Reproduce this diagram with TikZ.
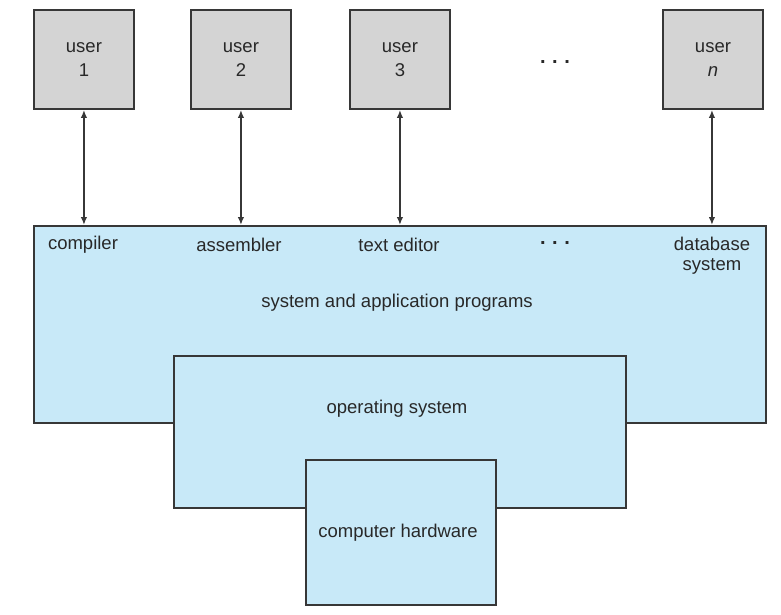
\documentclass[tikz,border=0pt]{standalone}
\usepackage{fontspec}
\setmainfont{Liberation Sans}
\usetikzlibrary{arrows.meta}
\definecolor{boxline}{RGB}{55,55,55}
\definecolor{userfill}{RGB}{212,212,212}
\definecolor{layerfill}{RGB}{200,233,248}
\definecolor{txt}{RGB}{40,40,40}
\begin{document}
\begin{tikzpicture}[x=1pt,y=-1pt,
  lbl/.style={font=\fontsize{18.5}{22}\selectfont, text=txt, inner sep=0pt, align=center},
  userbox/.style={draw=boxline, line width=1.9pt, fill=userfill, minimum width=100pt, minimum height=99pt, inner sep=0pt, anchor=north west, align=center, font=\fontsize{18.5}{22}\selectfont, text=txt},
  layer/.style={draw=boxline, line width=1.9pt, fill=layerfill, inner sep=0pt, anchor=north west},
  link/.style={draw=boxline, line width=1.7pt, {Latex[length=8pt,width=6.5pt]}-{Latex[length=8pt,width=6.5pt]}},
  dots/.style={font=\fontsize{20}{22}\selectfont\bfseries, text=txt, inner sep=0pt}]
\useasboundingbox (0,0) rectangle (781,615);

% users
\node[userbox] (u1) at (33,9) {user\\[2pt]1};
\node[userbox] (u2) at (190,9) {user\\[2pt]2};
\node[userbox] (u3) at (349,9) {user\\[2pt]3};
\node[userbox] (un) at (662,9) {user\\[2pt]\textit{n}};
\node[dots] (dtop) at (555,62) {.\,\,.\,\,.};

% layers
\node[layer, minimum width=732pt, minimum height=197pt] (apps) at (33,225) {};
\node[layer, minimum width=452pt, minimum height=152pt] (os) at (173,355) {};
\node[layer, minimum width=190pt, minimum height=145pt] (hw) at (305,459) {};

% labels
\node[lbl] (comp) at (83,245) {compiler};
\node[lbl] (asm) at (239,245) {assembler};
\node[lbl] (ted) at (399,245) {text editor};
\node[dots] (dmid) at (555,243) {.\,\,.\,\,.};
\node[lbl] (dbs) at (712,256) {database\\[-2pt]system};
\node[lbl] (sap) at (397,303) {system and application programs};
\node[lbl] (osl) at (397,409) {operating system};
\node[lbl] (hwl) at (398,533) {computer hardware};

% user <-> program links
\draw[link] (u1.south) -- (u1.south |- apps.north);
\draw[link] (u2.south) -- (u2.south |- apps.north);
\draw[link] (u3.south) -- (u3.south |- apps.north);
\draw[link] ([xshift=-1pt]un.south) -- ([xshift=-1pt]un.south |- apps.north);
\end{tikzpicture}
\end{document}
